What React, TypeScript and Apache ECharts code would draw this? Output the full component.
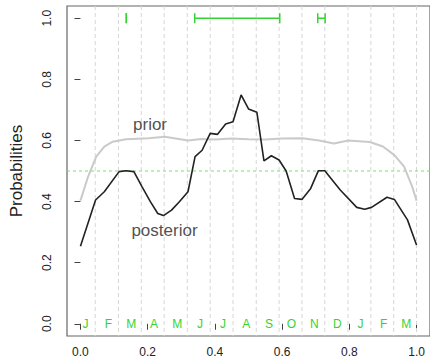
import React, { useEffect, useRef } from "react";
import * as echarts from "echarts";

const xTicks = [0, 0.2, 0.4, 0.6, 0.8, 1.0];
const yTicks = [0, 0.2, 0.4, 0.6, 0.8, 1.0];

const monthBounds = [0.044, 0.113, 0.181, 0.249, 0.318, 0.386, 0.454, 0.523, 0.591, 0.659, 0.727, 0.796, 0.864, 0.932, 1.0];
const monthNames = ["J", "F", "M", "A", "M", "J", "J", "A", "S", "O", "N", "D", "J", "F", "M"];
const monthPos = [0.015, 0.083, 0.151, 0.219, 0.288, 0.356, 0.424, 0.493, 0.561, 0.628, 0.696, 0.764, 0.833, 0.902, 0.969];

const posterior: [number, number][] = [
  [0, 0.254], [0.045, 0.405], [0.071, 0.432], [0.115, 0.498], [0.135, 0.501], [0.159, 0.498],
  [0.183, 0.449], [0.208, 0.4], [0.23, 0.361], [0.247, 0.354], [0.271, 0.372], [0.295, 0.4],
  [0.32, 0.432], [0.341, 0.547], [0.362, 0.568], [0.386, 0.623], [0.408, 0.62], [0.432, 0.654],
  [0.454, 0.661], [0.478, 0.749], [0.5, 0.703], [0.525, 0.692], [0.546, 0.533], [0.568, 0.55],
  [0.591, 0.536], [0.612, 0.5], [0.637, 0.41], [0.659, 0.407], [0.685, 0.443], [0.708, 0.501],
  [0.727, 0.501], [0.773, 0.438], [0.822, 0.381], [0.846, 0.375], [0.866, 0.381], [0.912, 0.414],
  [0.934, 0.407], [0.973, 0.34], [1.0, 0.258],
];

const prior: [number, number][] = [
  [0, 0.403], [0.0225, 0.481], [0.047, 0.547], [0.071, 0.58], [0.096, 0.596], [0.135, 0.604],
  [0.203, 0.607], [0.251, 0.612], [0.32, 0.6], [0.359, 0.605], [0.4, 0.603], [0.45, 0.606],
  [0.5, 0.604], [0.55, 0.603], [0.6, 0.606], [0.66, 0.607], [0.71, 0.6], [0.754, 0.59],
  [0.797, 0.6], [0.861, 0.595], [0.9, 0.58], [0.934, 0.552], [0.963, 0.514], [0.987, 0.449],
  [1.0, 0.403],
];

// [start, end, level]
const intervals: [number, number, number][] = [
  [0.1365, 0.1365, 1.0],
  [0.34, 0.593, 1.0],
  [0.706, 0.728, 1.0],
];

const refLevel = 0.5;
const axisMin = -0.04;
const axisMax = 1.04;

const curveLabels = [
  { name: "prior", value: [0.207, 0.651] },
  { name: "posterior", value: [0.25, 0.304] },
];

const FONT = "'Liberation Sans', Arial, Helvetica, sans-serif";
const GREEN = "#33d433";

export default function App() {
  const ref = useRef<HTMLDivElement>(null);
  useEffect(() => {
    if (!ref.current) return;
    const chart = echarts.init(ref.current, null, { renderer: "svg" });
    chart.setOption({
      animation: false,
      backgroundColor: "#ffffff",
      textStyle: { fontFamily: FONT },
      grid: {
        left: 64,
        top: 6,
        width: 369,
        height: 330,
        show: true,
        borderColor: "#666666",
        borderWidth: 1.2,
        backgroundColor: "transparent",
      },
      xAxis: {
        type: "value",
        min: axisMin,
        max: axisMax,
        axisLine: { show: false },
        splitLine: { show: false },
        axisTick: {
          show: true,
          length: 6,
          customValues: xTicks,
          lineStyle: { color: "#444", width: 1 },
        },
        axisLabel: {
          customValues: xTicks,
          formatter: (v: number) => v.toFixed(1),
          fontSize: 12,
          color: "#222",
          margin: 10,
          fontFamily: FONT,
        },
      },
      yAxis: {
        type: "value",
        min: axisMin,
        max: axisMax,
        name: "Probabilities",
        nameLocation: "middle",
        nameRotate: 90,
        nameGap: 42,
        nameTextStyle: { fontSize: 17, color: "#222", fontFamily: FONT },
        axisLine: { show: false },
        splitLine: { show: false },
        axisTick: {
          show: true,
          length: 6,
          customValues: yTicks,
          lineStyle: { color: "#444", width: 1 },
        },
        axisLabel: {
          customValues: yTicks,
          formatter: (v: number) => v.toFixed(1),
          rotate: 90,
          fontSize: 12,
          color: "#222",
          margin: 14,
          fontFamily: FONT,
        },
      },
      series: [
        {
          type: "custom",
          z: 1,
          silent: true,
          data: monthBounds.map((x) => [x]),
          renderItem: (_params: any, api: any) => {
            const top = api.coord([api.value(0), axisMax]);
            const bot = api.coord([api.value(0), axisMin]);
            return {
              type: "line",
              shape: { x1: top[0], y1: top[1], x2: bot[0], y2: bot[1] },
              style: { stroke: "#d6d6d6", lineWidth: 1, lineDash: [4, 3] },
            };
          },
        },
        {
          type: "custom",
          z: 2,
          silent: true,
          data: monthPos.map((x, i) => [x, 0, i]),
          renderItem: (_params: any, api: any) => {
            const p = api.coord([api.value(0), api.value(1)]);
            return {
              type: "text",
              x: p[0],
              y: p[1],
              style: {
                text: monthNames[api.value(2)],
                fill: GREEN,
                fontSize: 12,
                fontFamily: FONT,
                align: "center",
                verticalAlign: "middle",
              },
            };
          },
        },
        {
          type: "line",
          z: 2,
          silent: true,
          data: [
            [axisMin, refLevel],
            [axisMax, refLevel],
          ],
          showSymbol: false,
          lineStyle: { color: "#70e870", width: 1.2, type: [3, 3] },
        },
        {
          type: "line",
          z: 3,
          data: prior,
          showSymbol: false,
          lineStyle: { color: "#cacaca", width: 2 },
        },
        {
          type: "line",
          z: 4,
          data: posterior,
          showSymbol: false,
          lineStyle: { color: "#222222", width: 1.6 },
        },
        {
          type: "custom",
          z: 5,
          data: intervals,
          renderItem: (_params: any, api: any) => {
            const s = api.coord([api.value(0), api.value(2)]);
            const e = api.coord([api.value(1), api.value(2)]);
            const h = 5;
            const style = { stroke: GREEN, lineWidth: 1.5 };
            return {
              type: "group",
              children: [
                { type: "line", shape: { x1: s[0], y1: s[1], x2: e[0], y2: e[1] }, style },
                { type: "line", shape: { x1: s[0], y1: s[1] - h, x2: s[0], y2: s[1] + h }, style },
                { type: "line", shape: { x1: e[0], y1: e[1] - h, x2: e[0], y2: e[1] + h }, style },
              ],
            };
          },
        },
        {
          type: "scatter",
          z: 6,
          symbolSize: 0,
          silent: true,
          data: curveLabels,
          label: {
            show: true,
            position: "inside",
            formatter: (p: any) => p.name,
            color: "#222",
            fontSize: 17,
            fontFamily: FONT,
          },
        },
      ],
    });
    return () => chart.dispose();
  }, []);
  return (
    <div
      ref={ref}
      style={{ position: "fixed", left: 0, top: 0, width: 430, height: 362 }}
    />
  );
}
